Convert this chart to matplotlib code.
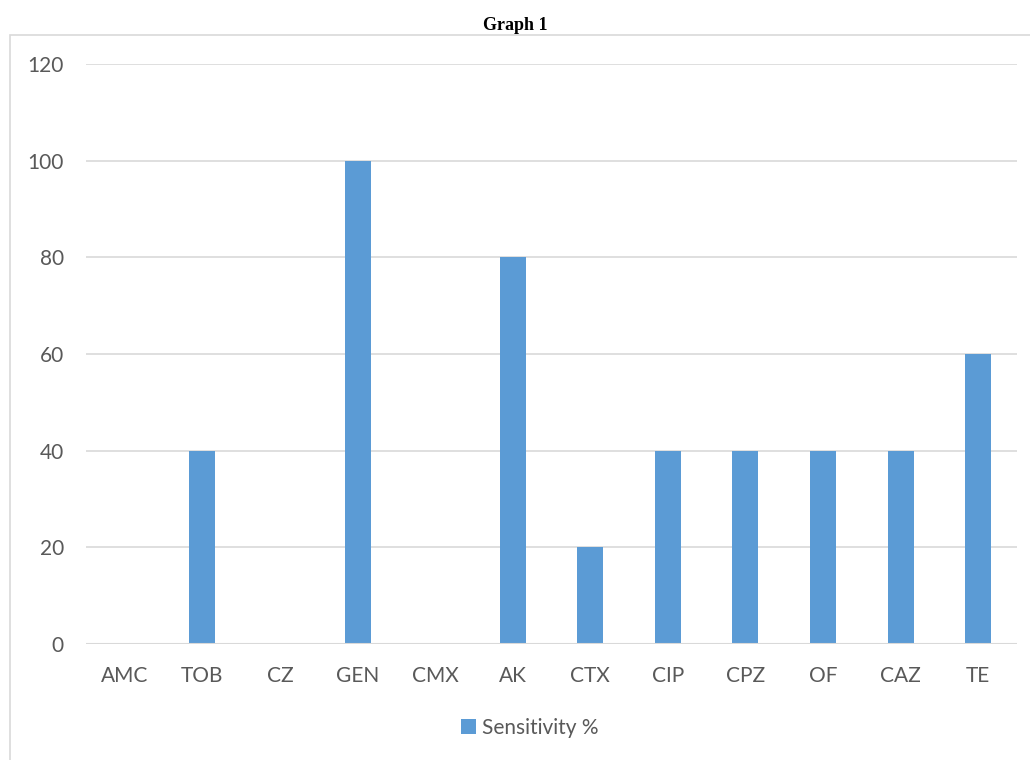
from matplotlib import pyplot as plt
from matplotlib.patches import Rectangle
import numpy as np

drugs = ['AMC', 'TOB', 'CZ', 'GEN', 'CMX', 'AK', 'CTX', 'CIP', 'CPZ', 'OF', 'CAZ', 'TE']
sensitivity = [0, 40, 0, 100, 0, 80, 20, 40, 40, 40, 40, 60]
yticks = [0, 20, 40, 60, 80, 100, 120]

plt.rcParams['font.family'] = ['Lato', 'DejaVu Sans']
txt = '#595959'
grid = '#D9D9D9'

fig = plt.figure(figsize=(10.3, 7.6), dpi=100)

# outer chart border
fig.patches.append(Rectangle((10/1030, -0.01), 1.02, 1 - 35/760 + 0.01,
                             transform=fig.transFigure, fill=False,
                             edgecolor=grid, linewidth=1.2))

fig.text(0.5, 1 - 25/760, 'Graph 1', ha='center', va='center',
         fontsize=13, fontweight='bold', family='Liberation Serif', color='black')

ax = fig.add_axes([86/1030, 1 - 644/760, (1017 - 86)/1030, (644 - 64)/760])
x = np.arange(len(drugs))
ax.bar(x, sensitivity, width=0.335, color='#5B9BD5', label='Sensitivity %', zorder=3)

ax.set_xlim(-0.5, len(drugs) - 0.5)
ax.set_ylim(0, 120)
ax.set_yticks(yticks)
ax.set_xticks(x)
ax.set_xticklabels(drugs)
ax.yaxis.grid(True, color=grid, linewidth=1.2, zorder=0)
for s in ax.spines.values():
    s.set_visible(False)
ax.axhline(0, color=grid, linewidth=1.5, zorder=4)
ax.tick_params(length=0, labelsize=15, colors=txt)
ax.tick_params(axis='x', pad=16)
ax.tick_params(axis='y', pad=16)

leg = fig.legend(loc='center', bbox_to_anchor=(530/1030, 1 - 728/760), frameon=False,
                 fontsize=15, handlelength=0.7, handleheight=0.7, handletextpad=0.3)
for t in leg.get_texts():
    t.set_color(txt)

plt.savefig('out.png')
